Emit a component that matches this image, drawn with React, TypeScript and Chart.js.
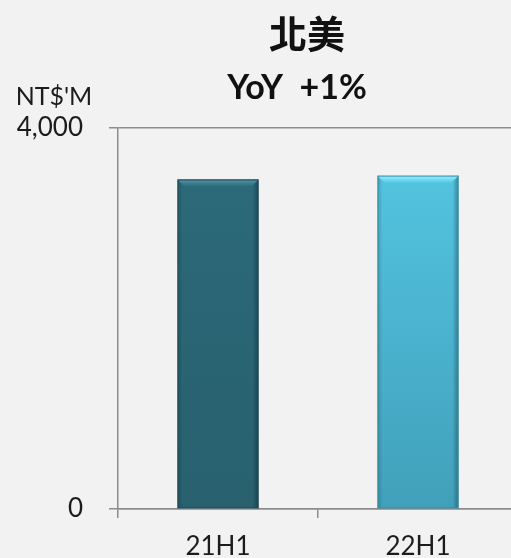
import React, { useEffect, useRef } from 'react';
import { Chart, registerables } from 'chart.js';

Chart.register(...registerables);

const categories = ['21H1', '22H1'];
const revenue = [3460, 3500];
const yTickValues = [0, 4000];
const chartTitle = '北美';
const chartSubtitle = 'YoY  +1%';
const unitLabel = "NT$'M";
const barTopColors = ['#2c6b7b', '#55c8e5'];
const barBottomColors = ['#28606e', '#41a0ba'];
const bevelColors = ['#5296a6', '#95f3ff'];
const borderColors = ['#1f4f5b', '#3a90a8'];

const AXIS_COLOR = '#8c8c8c';
const TEXT_COLOR = '#1c1c1c';
const FONT = 'Lato, "Noto Sans", sans-serif';

const textPlugin = {
  id: 'headerTexts',
  afterDraw(chart: any) {
    const { ctx, chartArea } = chart;
    ctx.save();
    ctx.textAlign = 'center';
    ctx.textBaseline = 'middle';
    ctx.fillStyle = '#111111';
    ctx.font = 'bold 38px "Noto Sans CJK TC", "Noto Sans CJK SC", sans-serif';
    ctx.fillText(chartTitle, chartArea.left + 189, chartArea.top - 94);
    ctx.font = 'bold 34px ' + FONT;
    ctx.fillText(chartSubtitle, chartArea.left + 179, chartArea.top - 40);
    ctx.fillStyle = TEXT_COLOR;
    ctx.font = '25px ' + FONT;
    ctx.fillText(unitLabel, chartArea.left - 64, chartArea.top - 31);
    ctx.restore();
  },
};

const bevelPlugin = {
  id: 'barBevel',
  afterDatasetsDraw(chart: any) {
    const { ctx } = chart;
    const meta = chart.getDatasetMeta(0);
    meta.data.forEach((bar: any, i: number) => {
      const { x, y, base, width } = bar.getProps(['x', 'y', 'base', 'width'], true);
      const left = x - width / 2;
      const right = x + width / 2;
      const top = y;
      const bottom = base;
      const b = 7;
      ctx.save();
      let g = ctx.createLinearGradient(right - 6, 0, right, 0);
      g.addColorStop(0, 'rgba(0,0,0,0)');
      g.addColorStop(1, 'rgba(0,0,0,0.32)');
      ctx.fillStyle = g;
      ctx.fillRect(right - 6, top, 6, bottom - top);
      g = ctx.createLinearGradient(left, 0, left + 5, 0);
      g.addColorStop(0, 'rgba(0,0,0,0.18)');
      g.addColorStop(1, 'rgba(0,0,0,0)');
      ctx.fillStyle = g;
      ctx.fillRect(left, top, 5, bottom - top);
      g = ctx.createLinearGradient(0, top, 0, top + b);
      g.addColorStop(0, bevelColors[i]);
      g.addColorStop(1, barTopColors[i]);
      ctx.fillStyle = g;
      ctx.beginPath();
      ctx.moveTo(left, top);
      ctx.lineTo(right, top);
      ctx.lineTo(right - b, top + b);
      ctx.lineTo(left + b, top + b);
      ctx.closePath();
      ctx.fill();
      ctx.strokeStyle = borderColors[i];
      ctx.lineWidth = 1;
      ctx.strokeRect(left + 0.5, top + 0.5, width - 1, bottom - top - 1);
      ctx.restore();
    });
  },
};

export default function App() {
  const canvasRef = useRef<HTMLCanvasElement | null>(null);

  useEffect(() => {
    const canvas = canvasRef.current;
    if (!canvas) return;
    const chart = new Chart(canvas, {
      type: 'bar',
      data: {
        labels: categories,
        datasets: [
          {
            data: revenue,
            backgroundColor: (c: any) => {
              const area = c.chart.chartArea;
              const i = c.dataIndex ?? 0;
              if (!area) return barTopColors[i];
              const g = c.chart.ctx.createLinearGradient(0, area.top, 0, area.bottom);
              g.addColorStop(0, barTopColors[i]);
              g.addColorStop(1, barBottomColors[i]);
              return g;
            },
            borderWidth: 0,
            barPercentage: 0.405,
            categoryPercentage: 1,
          },
        ],
      },
      options: {
        animation: false,
        responsive: true,
        maintainAspectRatio: false,
        layout: { padding: { top: 128, right: 12, left: 0, bottom: 0 } },
        plugins: {
          legend: { display: false },
          tooltip: { enabled: false },
          title: { display: false },
        },
        scales: {
          x: {
            type: 'category',
            offset: true,
            grid: {
              offset: true,
              drawOnChartArea: false,
              drawTicks: true,
              tickLength: 9,
              color: AXIS_COLOR,
              lineWidth: 1.5,
            },
            border: { display: true, color: AXIS_COLOR, width: 1.5 },
            ticks: {
              color: TEXT_COLOR,
              font: { family: FONT, size: 26 },
              padding: 13,
              maxRotation: 0,
            },
            afterFit: (s: any) => {
              s.height = 49;
            },
          },
          y: {
            min: 0,
            max: 4000,
            afterBuildTicks: (s: any) => {
              s.ticks = yTickValues.map((v) => ({ value: v }));
            },
            grid: {
              drawOnChartArea: true,
              drawTicks: true,
              tickLength: 9,
              color: AXIS_COLOR,
              lineWidth: 1.5,
            },
            border: { display: true, color: AXIS_COLOR, width: 1.5 },
            ticks: {
              color: TEXT_COLOR,
              font: { family: FONT, size: 26 },
              padding: 26,
              callback: (v: any) => Number(v).toLocaleString('en-US'),
            },
            afterFit: (s: any) => {
              s.width = 118;
            },
          },
        },
      },
      plugins: [bevelPlugin, textPlugin],
    });
    return () => chart.destroy();
  }, []);

  return (
    <div
      style={{
        position: 'fixed',
        left: 0,
        top: 0,
        width: 511,
        height: 558,
        overflow: 'hidden',
        background: '#f2f2f2',
      }}
    >
      <div style={{ position: 'relative', width: 530, height: 558 }}>
        <canvas ref={canvasRef} />
      </div>
    </div>
  );
}
